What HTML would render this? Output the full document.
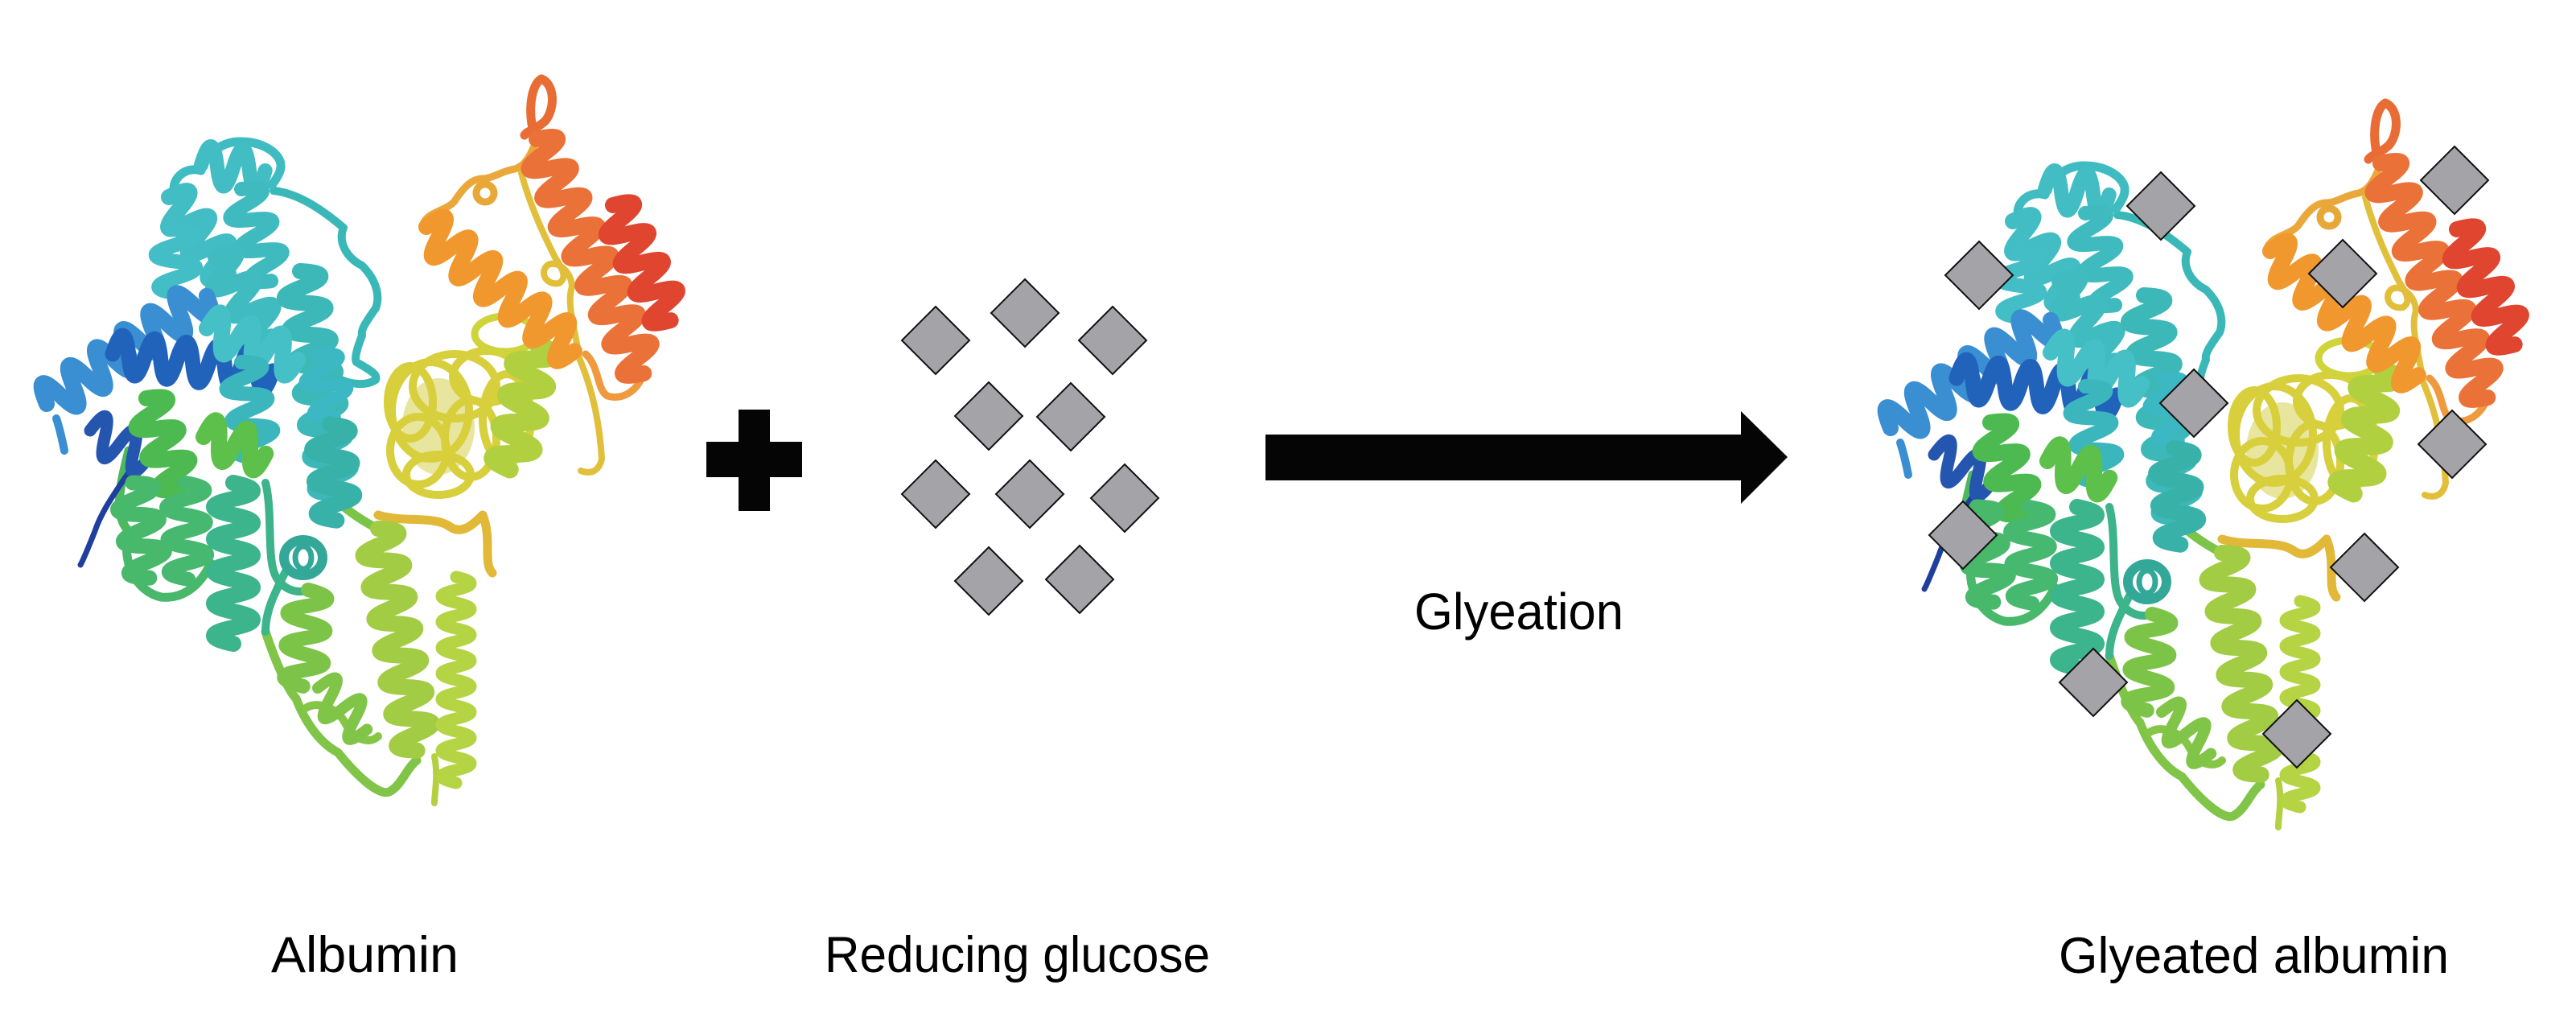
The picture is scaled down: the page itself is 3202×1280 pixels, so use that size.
<!DOCTYPE html>
<html>
<head>
<meta charset="utf-8">
<style>
html,body{margin:0;padding:0;background:#fff;}
body{width:3202px;height:1280px;overflow:hidden;}
svg{display:block;}
text{font-family:"Liberation Sans",Arial,sans-serif;fill:#000;}
</style>
</head>
<body>
<svg width="3202" height="1280" viewBox="0 0 3202 1280" xmlns="http://www.w3.org/2000/svg">
<defs>
<path id="h4" d="M0 0q10 -48 20 0t20 0t20 0t20 0"/>
<path id="h6" d="M0 0q10 -48 20 0t20 0t20 0t20 0t20 0t20 0"/>
<path id="h8" d="M0 0q10 -48 20 0t20 0t20 0t20 0t20 0t20 0t20 0t20 0"/>
<path id="h10" d="M0 0q10 -48 20 0t20 0t20 0t20 0t20 0t20 0t20 0t20 0t20 0t20 0"/>
<path id="h12" d="M0 0q10 -48 20 0t20 0t20 0t20 0t20 0t20 0t20 0t20 0t20 0t20 0t20 0t20 0"/>
<path id="h14" d="M0 0q10 -48 20 0t20 0t20 0t20 0t20 0t20 0t20 0t20 0t20 0t20 0t20 0t20 0t20 0t20 0"/>
<path id="h16" d="M0 0q10 -48 20 0t20 0t20 0t20 0t20 0t20 0t20 0t20 0t20 0t20 0t20 0t20 0t20 0t20 0t20 0t20 0"/>
<path id="s16" d="M0 0q8 -36 16 0t16 0t16 0t16 0t16 0t16 0t16 0t16 0t16 0t16 0t16 0t16 0t16 0t16 0t16 0t16 0"/>
<polygon id="dia" points="0,-42 42,0 0,42 -42,0" fill="#a4a3a7" stroke="#111" stroke-width="2"/>

<g id="prot" fill="none" stroke-linecap="round" stroke-linejoin="round">
  <!-- yellow coil mass -->
  <ellipse cx="545" cy="530" rx="45" ry="60" fill="#d6d050" fill-opacity="0.55" stroke="none"/>
  <g stroke="#d8cf3c" stroke-width="10">
    <ellipse cx="535" cy="510" rx="48" ry="60"/>
    <ellipse cx="565" cy="480" rx="52" ry="40"/>
    <ellipse cx="520" cy="560" rx="35" ry="42"/>
    <ellipse cx="605" cy="468" rx="42" ry="32"/>
    <ellipse cx="585" cy="545" rx="32" ry="48"/>
    <ellipse cx="545" cy="590" rx="40" ry="25"/>
    <ellipse cx="510" cy="500" rx="28" ry="45"/>
    <ellipse cx="630" cy="520" rx="30" ry="55"/>
  </g>
  <ellipse cx="628" cy="415" rx="38" ry="22" stroke="#cfd43a" stroke-width="9"/>

  <!-- thin loops -->
  <path d="M665 170 C 655 140 660 105 673 98 C 690 105 690 135 678 150 C 668 160 656 162 652 168" stroke="#e86c34" stroke-width="11"/>
  <path d="M527 276 C 535 262 555 262 565 250 C 575 235 585 222 600 222 C 612 222 625 212 640 210 C 655 205 660 190 667 175" stroke="#eaa83a" stroke-width="9"/>
  <circle cx="603" cy="240" r="11" stroke="#e8a838" stroke-width="9"/>
  <path d="M648 215 C 660 260 680 300 690 320 C 700 335 705 345 695 352 C 680 355 670 340 680 330 C 695 320 715 345 710 360 C 705 380 715 410 720 445 C 735 480 745 520 748 570 C 745 585 735 590 722 585" stroke="#e2bf3a" stroke-width="8"/>
  <path d="M728 440 C 745 455 742 485 755 492 C 775 498 792 485 800 465" stroke="#f09a40" stroke-width="9"/>
  <path d="M470 640 C 500 650 540 640 560 655 C 575 665 590 650 600 640 C 612 670 600 700 612 712" stroke="#e2b838" stroke-width="11"/>
  <path d="M330 785 C 345 830 360 860 368 868 C 380 900 400 925 420 935 C 440 960 470 990 484 984 C 500 975 505 955 518 945" stroke="#80c448" stroke-width="11"/>
  <path d="M380 880 C 395 870 420 880 430 900 C 440 920 460 925 470 915" stroke="#86c646" stroke-width="10"/>
  <path d="M160 660 C 150 700 170 735 200 742 C 230 745 250 725 262 700" stroke="#48b86a" stroke-width="11"/>
  <path d="M160 560 C 150 600 140 640 160 660" stroke="#4cb860" stroke-width="11"/>
  <path d="M330 600 C 340 640 330 700 345 720 C 360 740 380 735 383 733" stroke="#3db38a" stroke-width="10"/>
  <path d="M340 237 C 370 240 400 260 427 283 C 420 300 430 320 450 330 C 470 350 472 370 467 383 C 455 400 448 410 450 417 C 445 430 440 445 443 450 C 460 460 470 465 467 472 C 455 480 435 478 420 470" stroke="#3ab8b8" stroke-width="10"/>
  <path d="M222 250 C 205 228 228 205 250 212 C 256 190 278 175 300 176 C 322 176 342 186 348 200 C 352 210 345 220 338 230" stroke="#3fbcc2" stroke-width="11"/>
  <path d="M168 575 C 152 600 128 630 118 660 C 110 680 104 695 100 702" stroke="#1f3f9c" stroke-width="7"/>
  <path d="M70 520 C 75 535 78 550 80 560" stroke="#3a8ed2" stroke-width="10"/>
  <path d="M540 940 C 545 965 540 985 540 998" stroke="#b4d040" stroke-width="8"/>
  <path d="M425 628 C 440 640 455 650 470 657" stroke="#7cc448" stroke-width="11"/>
  <path d="M355 710 C 340 740 330 760 330 785" stroke="#3cb48c" stroke-width="10"/>

  <!-- helices -->
  <use href="#h6" transform="translate(210,245) rotate(52)" stroke="#42bdc4" stroke-width="20"/>
  <use href="#h4" transform="translate(250,205) rotate(5)" stroke="#42bdc4" stroke-width="18"/>
  <use href="#h6" transform="translate(300,235) rotate(72)" stroke="#3fbbc0" stroke-width="18"/>
  <use href="#h4" transform="translate(215,285) rotate(85)" stroke="#44bec6" stroke-width="18"/>
  <use href="#h6" transform="translate(268,320) rotate(55)" stroke="#40bcc0" stroke-width="20"/>
  <use href="#h14" transform="translate(373,337) rotate(81)" stroke="#3cb8b8" stroke-width="20"/>
  <use href="#h12" transform="translate(58,502) rotate(-34)" stroke="#3a8ed2" stroke-width="20"/>
  <use href="#h10" transform="translate(140,440) rotate(6)" stroke="#2163ba" stroke-width="19"/>
  <use href="#h4" transform="translate(112,535) rotate(25)" stroke="#2456b0" stroke-width="15"/>
  <use href="#h6" transform="translate(257,408) rotate(19)" stroke="#45c0c6" stroke-width="20"/>
  <use href="#h6" transform="translate(300,450) rotate(80)" stroke="#3ab6bc" stroke-width="18"/>
  <use href="#h4" transform="translate(395,440) rotate(75)" stroke="#3cb8c4" stroke-width="16"/>
  <use href="#h6" transform="translate(182,495) rotate(70)" stroke="#4cba50" stroke-width="20"/>
  <use href="#h4" transform="translate(253,543) rotate(15)" stroke="#5cc04a" stroke-width="20"/>
  <use href="#h6" transform="translate(165,600) rotate(80)" stroke="#48b86a" stroke-width="19"/>
  <use href="#h6" transform="translate(230,600) rotate(88)" stroke="#46b870" stroke-width="18"/>
  <use href="#h10" transform="translate(290,600) rotate(90)" stroke="#3cb48c" stroke-width="20"/>
  <use href="#h6" transform="translate(410,527) rotate(86)" stroke="#38b2a8" stroke-width="20"/>
  <ellipse cx="377" cy="693" rx="24" ry="22" stroke="#34a898" stroke-width="12"/>
  <ellipse cx="377" cy="693" rx="10" ry="14" stroke="#34a898" stroke-width="7"/>
  <use href="#h14" transform="translate(470,657) rotate(80)" stroke="#a2cc44" stroke-width="20"/>
  <use href="#h6" transform="translate(383,733) rotate(93)" stroke="#7cc448" stroke-width="18"/>
  <use href="#h4" transform="translate(395,855) rotate(40)" stroke="#80c448" stroke-width="14"/>
  <use href="#s16" transform="translate(567,717) rotate(90)" stroke="#b4d444" stroke-width="15"/>
  <use href="#h8" transform="translate(667,427) rotate(102)" stroke="#b0d040" stroke-width="22"/>
  <use href="#h12" transform="translate(530,282) rotate(40)" stroke="#f0982e" stroke-width="20"/>
  <use href="#h16" transform="translate(667,173) rotate(65.4)" stroke="#ea7238" stroke-width="20"/>
  <use href="#h8" transform="translate(762,255) rotate(63.4)" stroke="#e0452f" stroke-width="20"/>
</g>
</defs>

<!-- left albumin -->
<use href="#prot"/>

<!-- plus -->
<rect x="878" y="549" width="119" height="44" fill="#050505"/>
<rect x="918" y="509" width="39" height="126" fill="#050505"/>

<!-- reducing glucose diamonds -->
<use href="#dia" x="1163" y="423"/>
<use href="#dia" x="1274" y="389"/>
<use href="#dia" x="1383" y="423"/>
<use href="#dia" x="1229" y="517"/>
<use href="#dia" x="1331" y="518"/>
<use href="#dia" x="1163" y="614"/>
<use href="#dia" x="1280" y="614"/>
<use href="#dia" x="1398" y="619"/>
<use href="#dia" x="1229" y="722"/>
<use href="#dia" x="1342" y="720"/>

<!-- arrow -->
<polygon points="1573,540 2164,540 2164,511 2222,568 2164,626 2164,597 1573,597" fill="#050505"/>

<!-- right glycated albumin -->
<use href="#prot" transform="translate(2292,30)"/>
<use href="#dia" x="2460" y="342"/>
<use href="#dia" x="2686" y="256"/>
<use href="#dia" x="3051" y="224"/>
<use href="#dia" x="2912" y="340"/>
<use href="#dia" x="2727" y="501"/>
<use href="#dia" x="3048" y="552"/>
<use href="#dia" x="2440" y="665"/>
<use href="#dia" x="2939" y="705"/>
<use href="#dia" x="2602" y="848"/>
<use href="#dia" x="2855" y="912"/>

<!-- labels -->
<text x="1758" y="782" font-size="64" textLength="260" lengthAdjust="spacingAndGlyphs">Glyeation</text>
<text x="337" y="1208" font-size="63" textLength="233" lengthAdjust="spacingAndGlyphs">Albumin</text>
<text x="1025" y="1208" font-size="63" textLength="479" lengthAdjust="spacingAndGlyphs">Reducing glucose</text>
<text x="2559" y="1209" font-size="63" textLength="485" lengthAdjust="spacingAndGlyphs">Glyeated albumin</text>
</svg>
</body>
</html>
